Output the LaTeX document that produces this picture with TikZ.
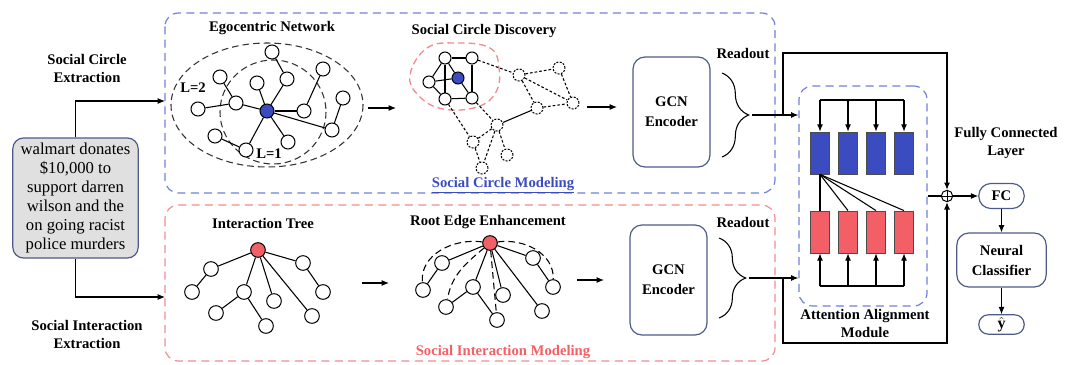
\documentclass[tikz,border=0pt]{standalone}
\usepackage{fontspec}
\setmainfont{Liberation Serif}
\usetikzlibrary{arrows.meta,positioning,decorations.pathreplacing}
\definecolor{egoblue}{HTML}{3B4CC0}
\definecolor{rootred}{HTML}{F25F66}
\definecolor{dashblue}{HTML}{7080D8}
\definecolor{dashred}{HTML}{F28C90}
\definecolor{boxedge}{HTML}{4E5A8A}
\definecolor{tweetgray}{HTML}{E0E0E0}
\tikzset{
  vtx/.style={circle,draw=black,fill=white,line width=0.75pt,inner sep=0pt,minimum size=10.5pt},
  ghost/.style={vtx,dash pattern=on 1.5pt off 1pt,minimum size=9pt},
  lbl/.style={font=\fontsize{11}{13.5}\selectfont\bfseries,align=center,inner sep=0pt},
  dashbox/.style={line width=0.9pt,dash pattern=on 6pt off 4pt,rounded corners=10pt},
  rbox/.style={draw=boxedge,line width=0.9pt,rounded corners=9pt,align=center,
    font=\fontsize{11}{15}\selectfont\bfseries,inner sep=0pt},
  cell/.style={draw=black!70,line width=0.6pt,minimum width=14.25pt,minimum height=31.5pt,inner sep=0pt},
}
\begin{document}
\begin{tikzpicture}[x=0.75pt,y=-0.75pt,>={Latex[length=5.5pt,width=4.5pt]},line width=0.8pt]
\useasboundingbox (0,0) rectangle (1066,364);
% \draw[help lines,step=50] (0,0) grid (1066,364);
% input post
\node (tweet) [draw=boxedge,fill=tweetgray,line width=0.9pt,rounded corners=8pt,
  minimum width=94pt,minimum height=90pt,align=center,
  font=\fontsize{12.5}{14.3}\selectfont] at (75.5,198)
  {walmart donates\\\$10,000 to\\support darren\\wilson and the\\on going racist\\police murders};
\node (sce) [lbl] at (87,68) {Social Circle\\Extraction};
\node (sie) [lbl] at (87,334) {Social Interaction\\Extraction};
\coordinate (inA) at (165,101);
\coordinate (inB) at (165,297);
\draw[->] (tweet.north) |- (inA);
\draw[->] (tweet.south) |- (inB);
%
\draw[dashbox,draw=dashblue] (165,13) rectangle (775,193);
\draw[dashbox,draw=dashred] (165,205) rectangle (775,361);
\node (scm) [lbl,text=egoblue] at (503,185) {\underline{Social Circle Modeling}};
\node (sim) [lbl,text=rootred] at (503,352) {Social Interaction Modeling};
%
% egocentric network
\node (egot) [lbl] at (272,28) {Egocentric Network};
\draw[dash pattern=on 5pt off 3pt,black!80] (267,105) ellipse [x radius=96,y radius=62];
\draw[dash pattern=on 5pt off 3pt,black!80] (273,112) ellipse [x radius=53,y radius=52];
\node (l2) [lbl] at (193,88) {L=2};
\node (l1) [lbl] at (269,154) {L=1};
\node (ec) [vtx,fill=egoblue] at (267,111) {};
\node (e1) [vtx] at (272,52) {};
\node (e2) [vtx] at (287,79) {};
\node (e3) [vtx] at (257,83) {};
\node (e4) [vtx] at (323,69) {};
\node (e5) [vtx] at (304,111) {};
\node (e6) [vtx] at (343,98) {};
\node (e7) [vtx] at (332,130) {};
\node (e8) [vtx] at (288,142) {};
\node (e9) [vtx] at (246,150) {};
\node (e10) [vtx] at (215,136) {};
\node (e11) [vtx] at (236,103) {};
\node (e12) [vtx] at (220,77) {};
\node (e13) [vtx] at (198,109) {};
\foreach \a/\b in {ec/e2,ec/e3,ec/e5,ec/e7,ec/e8,ec/e9,ec/e11,e1/e2,e4/e5,e6/e7,e10/e9,e12/e11,e13/e11}
  \draw (\a) -- (\b);
\coordinate (a1s) at (368,108);
\coordinate (a1e) at (396,108);
\draw[->] (a1s) -- (a1e);
%
% social circle discovery
\node (scdt) [lbl] at (484,31) {Social Circle Discovery};
\draw[dashred,line width=1pt,dash pattern=on 5pt off 3pt] plot[smooth cycle,tension=0.7]
  coordinates {(410,75) (427,48) (457,43) (490,48) (499,68) (496,92) (477,107) (443,109) (419,96)};
\node (s1) [vtx,minimum size=9pt] at (445,58) {};
\node (s2) [vtx,minimum size=9pt] at (472,58) {};
\node (s3) [vtx,minimum size=9pt] at (429,82) {};
\node (s4) [vtx,minimum size=9pt,fill=egoblue] at (458,78) {};
\node (s5) [vtx,minimum size=9pt] at (445,99) {};
\node (s6) [vtx,minimum size=9pt] at (472,98) {};
\node (t1) [ghost] at (519,75) {};
\node (t2) [ghost] at (559,68) {};
\node (t3) [ghost] at (573,103) {};
\node (t4) [ghost] at (537,108) {};
\node (t5) [ghost] at (497,125) {};
\node (t6) [ghost] at (473,142) {};
\node (t7) [ghost] at (507,155) {};
\node (t8) [ghost] at (482,168) {};
\foreach \a/\b in {s1/s2,s1/s3,s1/s5,s1/s4,s3/s4,s3/s5,s4/s6,s2/s6,s5/s6,t4/t5}
  \draw (\a) -- (\b);
\foreach \a/\b in {s2/t1,t1/t2,t1/t3,t1/t4,t2/t3,t4/t3,s5/t6,s6/t5,t5/t6,t5/t7,t5/t8,t6/t8}
  \draw[dash pattern=on 2pt off 1.5pt] (\a) -- (\b);
\coordinate (a2s) at (587,107);
\coordinate (a2e) at (617,107);
\draw[->] (a2s) -- (a2e);
%
% interaction tree
\node (itt) [lbl] at (263,223) {Interaction Tree};
\node (tr) [vtx,fill=rootred,minimum size=11pt] at (258,250) {};
\node (n1) [vtx,minimum size=11pt] at (211,269) {};
\node (n2) [vtx,minimum size=11pt] at (192,292) {};
\node (n3) [vtx,minimum size=11pt] at (244,292) {};
\node (n4) [vtx,minimum size=11pt] at (216,313) {};
\node (n5) [vtx,minimum size=11pt] at (266,326) {};
\node (n6) [vtx,minimum size=11pt] at (274,301) {};
\node (n7) [vtx,minimum size=11pt] at (303,263) {};
\node (n8) [vtx,minimum size=11pt] at (323,292) {};
\node (n9) [vtx,minimum size=11pt] at (312,316) {};
\foreach \a/\b in {tr/n1,n1/n2,tr/n3,n3/n4,n3/n5,tr/n6,tr/n7,n7/n8,tr/n9}
  \draw (\a) -- (\b);
\coordinate (a3s) at (362,283);
\coordinate (a3e) at (389,283);
\draw[->] (a3s) -- (a3e);
%
% root edge enhancement
\node (reet) [lbl] at (488,222) {Root Edge Enhancement};
\node (er) [vtx,fill=rootred,minimum size=11pt] at (490,243) {};
\node (m1) [vtx,minimum size=11pt] at (442,263) {};
\node (m2) [vtx,minimum size=11pt] at (423,290) {};
\node (m3) [vtx,minimum size=11pt] at (473,287) {};
\node (m4) [vtx,minimum size=11pt] at (446,307) {};
\node (m5) [vtx,minimum size=11pt] at (497,320) {};
\node (m6) [vtx,minimum size=11pt] at (503,295) {};
\node (m7) [vtx,minimum size=11pt] at (533,258) {};
\node (m8) [vtx,minimum size=11pt] at (553,287) {};
\node (m9) [vtx,minimum size=11pt] at (542,311) {};
\foreach \a/\b in {er/m1,m1/m2,er/m3,m3/m4,m3/m5,er/m6,er/m7,m7/m8,er/m9}
  \draw (\a) -- (\b);
\draw[dash pattern=on 5pt off 3pt] (er) to[out=172,in=95] (m2);
\draw[dash pattern=on 5pt off 3pt] (er) to[out=8,in=88] (m8);
\draw[dash pattern=on 5pt off 3pt] (er) to[out=-140,in=80] (m4);
\draw[dash pattern=on 5pt off 3pt] (er) -- (m5);
\coordinate (a4s) at (577,280);
\coordinate (a4e) at (604,280);
\draw[->] (a4s) -- (a4e);
%
% encoders and readout
\node (gcn1) [rbox,minimum width=57.75pt,minimum height=82.5pt] at (671.5,112) {GCN\\Encoder};
\node (gcn2) [rbox,minimum width=57.75pt,minimum height=82.5pt] at (668.5,280) {GCN\\Encoder};
\node (ro1) [lbl] at (743,54) {Readout};
\node (ro2) [lbl] at (743,222) {Readout};
\draw[decorate,decoration={brace,amplitude=20pt}] (722,73) -- (722,157);
\draw[decorate,decoration={brace,amplitude=20pt}] (719,238) -- (719,318);
\coordinate (rdA) at (752,115);
\coordinate (rdB) at (749,278);
%
% attention alignment module
\node (att) [dashbox,draw=dashblue,minimum width=96pt,minimum height=165pt] at (863,196) {};
\node (aam) [lbl] at (865,323) {Attention Alignment\\Module};
\foreach \i in {1,...,4} {
  \node (b\i) [cell,fill=egoblue] at ({792+28*\i},153) {};
  \node (r\i) [cell,fill=rootred] at ({792+28*\i},232) {};
}
\coordinate (topL) at (820,100);
\coordinate (topR) at (904,100);
\coordinate (botL) at (820,286);
\coordinate (botR) at (904,286);
\draw (topL) -- (topR);
\draw (botL) -- (botR);
\foreach \i in {1,...,4} {
  \draw[->] (b\i |- topL) -- (b\i.north);
  \draw[->] (r\i |- botL) -- (r\i.south);
  \draw (b1.south) -- (r\i.north);
}
\draw[->] (rdA) -- (rdA -| att.west);
\draw[->] (rdB) -- (rdB -| att.west);
%
% skip connections and output
\node (sum) [circle,draw=black,line width=0.75pt,minimum size=8.5pt,inner sep=0pt] at (947,196) {};
\draw[line width=0.75pt] (sum.north) -- (sum.south) (sum.west) -- (sum.east);
\coordinate (skA) at (783,115);
\coordinate (skB) at (783,278);
\coordinate (kneeA) at (783,53);
\coordinate (kneeB) at (783,343);
\draw[->] (skA) -- (kneeA) -| (sum.north);
\draw[->] (skB) -- (kneeB) -| (sum.south);
\draw (att.east) -- (sum.west);
\node (fcl) [lbl] at (1006,143) {Fully Connected\\Layer};
\node (fc) [rbox,minimum width=34pt,minimum height=18.75pt] at (1001.5,196) {FC};
\node (nc) [rbox,minimum width=67pt,minimum height=40.5pt] at (1001.5,260) {Neural\\Classifier};
\node (yh) [rbox,rounded corners=7pt,minimum width=34pt,minimum height=14.5pt,font=\large] at (1001.5,324.5) {$\hat{\mathbf{y}}$};
\draw[->] (sum.east) -- (fc.west);
\draw[->] (fc) -- (nc);
\draw[->] (nc) -- (yh);
\end{tikzpicture}
\end{document}
